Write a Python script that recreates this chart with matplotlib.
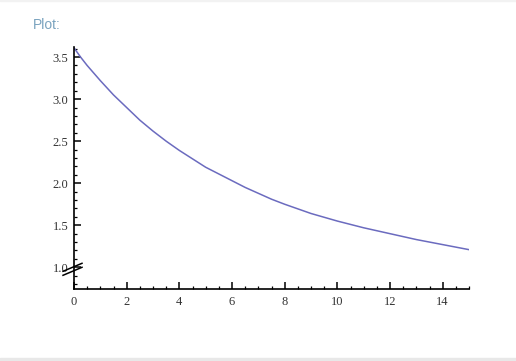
import matplotlib.pyplot as plt
import matplotlib.ticker as ticker
from matplotlib.patches import Rectangle

# values
x_vals = [0, 0.25, 0.5, 0.75, 1, 1.5, 2, 2.5, 3, 3.5, 4, 4.5, 5, 5.5, 6, 6.5, 7,
          7.5, 8, 9, 10, 11, 12, 13, 14, 15]
y_vals = [3.61, 3.50, 3.40, 3.31, 3.22, 3.05, 2.90, 2.75, 2.62, 2.50, 2.39,
          2.29, 2.19, 2.11, 2.03, 1.95, 1.88, 1.81, 1.75, 1.64, 1.55, 1.47,
          1.40, 1.33, 1.27, 1.21]

x_ticks = [0, 2, 4, 6, 8, 10, 12, 14]
y_ticks = [1.0, 1.5, 2.0, 2.5, 3.0, 3.5]

W, H = 516, 361
fig = plt.figure(figsize=(W / 100, H / 100), dpi=100)
fig.patch.set_facecolor('white')

# page frame: faint line on top, grey band at the bottom
fig.patches.append(Rectangle((0, 1 - 1 / H), 1, 1 / H, transform=fig.transFigure,
                             color='#f2f2f2', zorder=0))
fig.patches.append(Rectangle((0, 0), 1, 3 / H, transform=fig.transFigure,
                             color='#e8e8e8', zorder=0))

fig.text(33 / W, 1 - 25 / H, 'Plot:', color='#7aa3bf', fontsize=10,
         family='Liberation Sans', va='center', ha='left')

left, right, top, bottom = 74, 469, 47, 289
ax = fig.add_axes([left / W, 1 - bottom / H, (right - left) / W, (bottom - top) / H])

ax.plot(x_vals, y_vals, color='#6b6bbf', lw=1.1)

ymin, ymax = 0.742, 3.62
ax.set_xlim(0, 15)
ax.set_ylim(ymin, ymax)

for s in ['top', 'right']:
    ax.spines[s].set_visible(False)
for s in ['left', 'bottom']:
    ax.spines[s].set_linewidth(1.2)

ax.set_xticks(x_ticks)
ax.set_yticks(y_ticks)
ax.xaxis.set_minor_locator(ticker.MultipleLocator(0.5))
ax.yaxis.set_minor_locator(ticker.MultipleLocator(0.1))
ax.yaxis.set_major_formatter(ticker.FormatStrFormatter('%.1f'))
ax.tick_params(which='major', direction='in', length=5, width=1.1)
ax.tick_params(which='minor', direction='in', length=2.5, width=0.9)
ax.tick_params(axis='x', pad=5)
ax.tick_params(axis='y', pad=4)
for lab in ax.get_xticklabels() + ax.get_yticklabels():
    lab.set_family('Liberation Serif')
    lab.set_fontsize(9)
    lab.set_color('#333333')

# axis break marks at 1.0
yb = (1.0 - ymin) / (ymax - ymin)
ww, hh = right - left, bottom - top
for off in (0, 4):
    ax.plot([-11 / ww, 8 / ww], [yb - (4 + off) / hh, yb + (4 - off) / hh],
            transform=ax.transAxes, color='black', lw=1.1, clip_on=False)

fig.savefig('out.png', dpi=100)
